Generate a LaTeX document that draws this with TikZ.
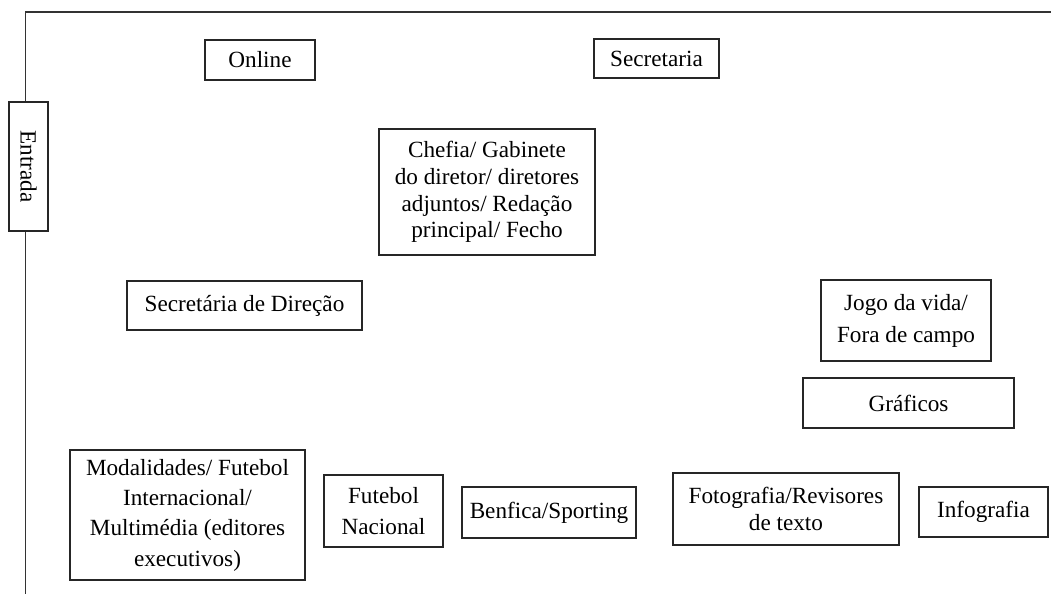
\documentclass[tikz,border=0pt]{standalone}
\usepackage{fontspec}
\setmainfont{Liberation Serif}
\begin{document}
\begin{tikzpicture}[x=1pt,y=-1pt,
  box/.style={draw=black!85, line width=1.1pt, inner sep=0pt, align=center,
    font=\fontsize{23.2}{26.7}\selectfont, fill=white},
  wide/.style={font=\fontsize{23.2}{#1}\selectfont},
  frame/.style={draw=black!80, line width=1.6pt}]
\useasboundingbox (0,0) rectangle (1051,594);
\coordinate (corner) at (25.5,12);
\coordinate (topend) at (1051,12);
\coordinate (bottom) at (25.5,594);
\node[box, minimum width=39pt, minimum height=129pt] (entrada) at (28.5,166.5) {};
\node[font=\fontsize{23.2}{26.7}\selectfont, rotate=-90, inner sep=0pt] (entradatext) at (entrada.center) {Entrada};
\draw[frame] (topend) -- (corner) -- (entrada.north -| corner);
\draw[frame] (entrada.south -| corner) -- (bottom);
\node[box, minimum width=110pt, minimum height=40pt] (online) at (260,60) {Online};
\node[box, minimum width=125pt, minimum height=39pt] (secretaria) at (656.5,58.5) {Secretaria};
\node[box, minimum width=216pt, minimum height=126pt] (chefia) at (487,192) {Chefia/ Gabinete\\do diretor/ diretores\\adjuntos/ Redação\\principal/ Fecho};
\node[box, minimum width=235pt, minimum height=49pt] (secdir) at (244.5,305.5) {Secretária de Direção};
\node[box, wide=32, minimum width=170pt, minimum height=81pt] (jogo) at (906,320.5) {Jogo da vida/\\Fora de campo};
\node[box, minimum width=211pt, minimum height=50pt] (graficos) at (908.5,403) {Gráficos};
\node[box, wide=30.3, minimum width=235pt, minimum height=130pt] (modal) at (187.5,515) {Modalidades/ Futebol\\Internacional/\\Multimédia (editores\\executivos)};
\node[box, wide=31, minimum width=119pt, minimum height=72pt] (futnac) at (383.5,511) {Futebol\\Nacional};
\node[box, minimum width=174pt, minimum height=51pt] (benfica) at (549,512.5) {Benfica/Sporting};
\node[box, minimum width=226pt, minimum height=72pt] (foto) at (786,509) {Fotografia/Revisores\\de texto};
\node[box, minimum width=129pt, minimum height=50pt] (info) at (983.5,512) {Infografia};
\end{tikzpicture}
\end{document}
